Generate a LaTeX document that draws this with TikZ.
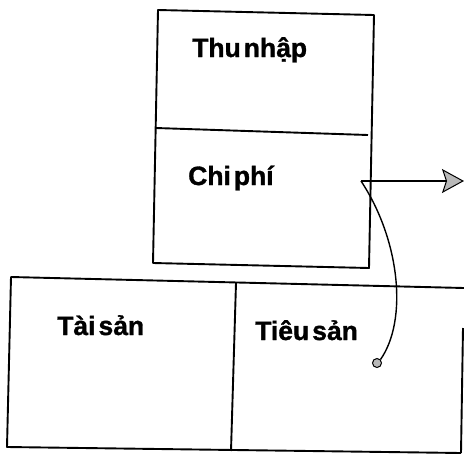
\documentclass[tikz,border=0pt]{standalone}
\usepackage{fontspec}
\setmainfont{Liberation Sans}[BoldFeatures={FakeBold=1.2}]
\usetikzlibrary{arrows.meta}
\newcommand{\lblfont}{\fontsize{26.5}{30}\selectfont\bfseries\spaceskip=3pt plus 1pt\relax}
\tikzset{
  lbl/.style={anchor=base west, inner sep=0pt, font=\lblfont},
  edge/.style={line width=1.9pt, line join=round},
  conn/.style={line width=1.4pt},
  tip/.style={-{Stealth[inset=4pt,length=22pt,width=24pt,fill=gray!55,line width=1pt]}},
  dotnode/.style={circle, draw, line width=1pt, fill=gray!55, minimum size=9pt, inner sep=0pt}
}
\begin{document}
\begin{tikzpicture}[x=1pt,y=-1pt]
\useasboundingbox (0,0) rectangle (464,456);
% top box
\coordinate (t1) at (158,10);
\coordinate (t2) at (374,15);
\coordinate (t3) at (369,268);
\coordinate (t4) at (153,263);
\draw[edge] (t1) -- (t2) -- (t3) -- (t4) -- cycle;
\coordinate (d1) at (156,128);
\coordinate (d2) at (368,135);
\draw[edge] (d1) -- (d2);
% bottom box
\coordinate (b1) at (11,277);
\coordinate (b2) at (464,288);
\coordinate (b3) at (7,447);
\coordinate (b4) at (461,453);
\coordinate (m1) at (236,283);
\coordinate (m2) at (231,451);
\coordinate (r1) at (463,328);
\draw[edge] (b2) -- (b1) -- (b3) -- (b4);
\draw[edge] (m1) -- (m2);
\draw[edge] (r1) -- (b4);
% labels
\node[lbl] (thu) at (192,57) {Thu nhập};
\node[lbl] (chi) at (188,185) {Chi phí};
\node[lbl] (tai) at (57,335) {Tài sản};
\node[lbl] (tieu) at (255,340) {Tiêu sản};
% connectors
\coordinate (cs) at (361,181);
\coordinate (ae) at (464,181);
\node[dotnode] (dot) at (377,363) {};
\draw[conn,tip] (cs) -- (ae);
\draw[conn] (cs) .. controls (400,240) and (408,320) .. (dot.north east);
\end{tikzpicture}
\end{document}
